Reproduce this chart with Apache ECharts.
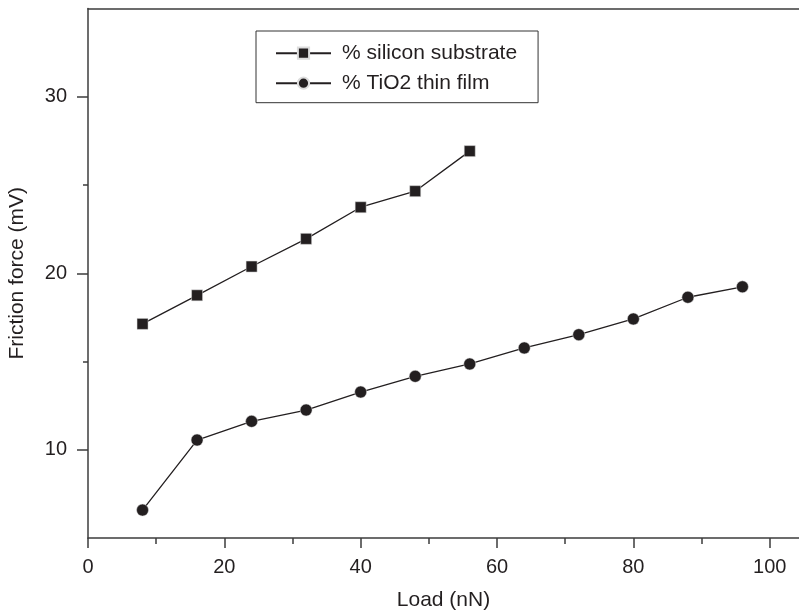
<!DOCTYPE html>
<html>
<head>
<meta charset="utf-8">
<script src="https://cdn.jsdelivr.net/npm/echarts@6/dist/echarts.min.js"></script>
<style>html,body{margin:0;padding:0;background:#fff}#c{width:799px;height:611px}</style>
</head>
<body>
<div id="c"></div>
<script>
var siliconLoad = [8, 16, 24, 32, 40, 48, 56];
var siliconForce = [17.13, 18.75, 20.38, 21.95, 23.74, 24.65, 26.92];
var tioLoad = [8, 16, 24, 32, 40, 48, 56, 64, 72, 80, 88, 96];
var tioForce = [6.58, 10.55, 11.61, 12.25, 13.27, 14.16, 14.86, 15.77, 16.52, 17.41, 18.64, 19.23];
var xMajorTicks = [0, 20, 40, 60, 80, 100];
var xMinorTicks = [10, 30, 50, 70, 90];
var yMajorTicks = [10, 20, 30];
var yMinorTicks = [15, 25];
var seriesNames = ['% silicon substrate', '% TiO2 thin film'];

var ink = '#231f20';
var axisCol = '#3c3c3c';
var font = 'Liberation Sans, Arial, Helvetica, sans-serif';

function pairs(xs, ys) { return xs.map(function (x, i) { return [x, ys[i]]; }); }

var chart = echarts.init(document.getElementById('c'), null, { renderer: 'canvas' });
chart.setOption({
  animation: false,
  backgroundColor: '#fff',
  textStyle: { fontFamily: font, color: ink },
  grid: { left: 88, right: 0, top: 8.5, bottom: 73, containLabel: false, outerBoundsMode: 'none' },
  legend: {
    orient: 'vertical',
    left: 256,
    top: 31,
    padding: [11.7, 21, 9, 19],
    itemGap: 9,
    itemWidth: 55,
    itemHeight: 14,
    itemTextGap: 18,
    borderColor: '#333',
    borderWidth: 1,
    textStyle: { fontSize: 21, color: ink, fontFamily: font, lineHeight: 14, padding: [0, 0, 0, 6] },
    data: seriesNames
  },
  xAxis: [{
    type: 'value',
    min: 0, max: 104.3,
    name: 'Load (nN)', nameLocation: 'middle', nameGap: 52,
    nameTextStyle: { fontSize: 21, color: ink, fontFamily: font },
    axisLine: { show: true, onZero: false, lineStyle: { color: axisCol, width: 1.5 } },
    axisTick: { show: true, inside: false, length: 10, customValues: xMajorTicks, lineStyle: { color: axisCol, width: 1.5 } },
    axisLabel: { fontSize: 20, color: ink, margin: 19, fontFamily: font, customValues: xMajorTicks },
    splitLine: { show: false }
  }, {
    type: 'value', position: 'bottom',
    min: 0, max: 104.3,
    axisLine: { show: false },
    axisTick: { show: true, inside: false, length: 6, customValues: xMinorTicks, lineStyle: { color: axisCol, width: 1.5 } },
    axisLabel: { show: false, customValues: xMinorTicks },
    splitLine: { show: false }
  }, {
    type: 'value', position: 'top',
    min: 0, max: 104.3,
    axisLine: { show: true, onZero: false, lineStyle: { color: axisCol, width: 1.5 } },
    axisTick: { show: false }, axisLabel: { show: false }, splitLine: { show: false }
  }],
  yAxis: [{
    type: 'value',
    min: 5, max: 35,
    name: 'Friction force (mV)', nameLocation: 'middle', nameGap: 60,
    nameTextStyle: { fontSize: 21, color: ink, fontFamily: font },
    axisLine: { show: true, onZero: false, lineStyle: { color: axisCol, width: 1.5 } },
    axisTick: { show: true, inside: false, length: 11, customValues: yMajorTicks, lineStyle: { color: axisCol, width: 1.5 } },
    axisLabel: { fontSize: 20, color: ink, margin: 21, fontFamily: font, customValues: yMajorTicks },
    splitLine: { show: false }
  }, {
    type: 'value', position: 'left',
    min: 5, max: 35,
    axisLine: { show: false },
    axisTick: { show: true, inside: false, length: 5, customValues: yMinorTicks, lineStyle: { color: axisCol, width: 1.5 } },
    axisLabel: { show: false, customValues: yMinorTicks },
    splitLine: { show: false }
  }],
  series: [{
    name: seriesNames[0], type: 'line',
    data: pairs(siliconLoad, siliconForce),
    symbol: 'rect', symbolSize: 11,
    lineStyle: { color: ink, width: 1.3 },
    itemStyle: { color: ink, borderColor: '#ddd', borderWidth: 0.5 },
    emphasis: { disabled: true }
  }, {
    name: seriesNames[1], type: 'line',
    data: pairs(tioLoad, tioForce),
    symbol: 'circle', symbolSize: 12,
    lineStyle: { color: ink, width: 1.3 },
    itemStyle: { color: ink, borderColor: '#ddd', borderWidth: 0.5 },
    emphasis: { disabled: true }
  }]
});
</script>
</body>
</html>
